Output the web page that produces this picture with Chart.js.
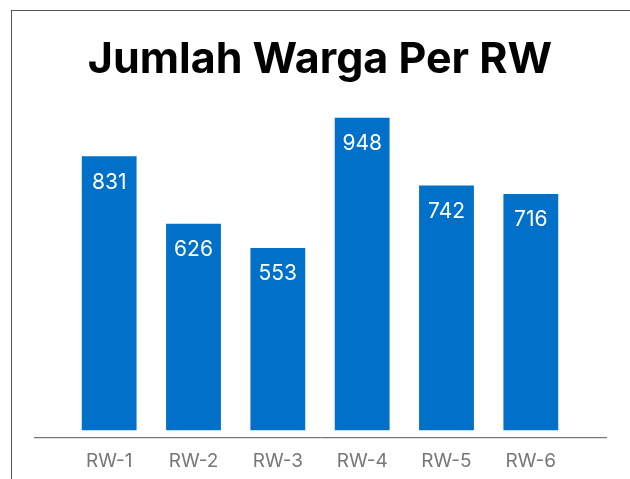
<!DOCTYPE html>
<html>
<head>
<meta charset="utf-8">
<script src="https://cdn.jsdelivr.net/npm/chart.js@4"></script>
<style>
    html, body { margin: 0; padding: 0; background: #fff; }
    #wrap { position: relative; width: 630px; height: 479px; }
    #frame {
        position: absolute; left: 11px; top: 10px; right: 0; bottom: 0;
        border-top: 1px solid #555; border-left: 1px solid #555;
        pointer-events: none;
    }
</style>
</head>
<body>
<div id="wrap">
    <canvas id="chart" width="630" height="479"></canvas>
    <div id="frame"></div>
</div>
<script>
// Data
const categories = ['RW-1', 'RW-2', 'RW-3', 'RW-4', 'RW-5', 'RW-6'];
const wargaValues = [831, 626, 553, 948, 742, 716];
const titleText = 'Jumlah Warga Per RW';

// Value labels drawn inside the top of each bar
const valueLabels = {
    id: 'valueLabels',
    afterDatasetsDraw(chart) {
        const ctx = chart.ctx;
        const meta = chart.getDatasetMeta(0);
        ctx.save();
        ctx.fillStyle = '#ffffff';
        ctx.font = '21px Inter';
        ctx.textAlign = 'center';
        ctx.textBaseline = 'middle';
        meta.data.forEach((bar, i) => {
            ctx.fillText(String(wargaValues[i]), bar.x, bar.y + 26);
        });
        ctx.restore();
    }
};

// Baseline that runs wider than the bars
const baseLine = {
    id: 'baseLine',
    afterDraw(chart) {
        const { ctx, chartArea } = chart;
        ctx.save();
        ctx.strokeStyle = '#555';
        ctx.lineWidth = 1;
        ctx.beginPath();
        ctx.moveTo(chartArea.left - 33, chartArea.bottom + 0.5);
        ctx.lineTo(chartArea.right + 34, chartArea.bottom + 0.5);
        ctx.stroke();
        ctx.restore();
    }
};

new Chart(document.getElementById('chart'), {
    type: 'bar',
    data: {
        labels: categories,
        datasets: [{
            data: wargaValues,
            backgroundColor: '#0170c9',
            borderWidth: 0,
            barPercentage: 0.65,
            categoryPercentage: 1.0
        }]
    },
    options: {
        responsive: false,
        animation: false,
        layout: { padding: { left: 67, right: 57, top: 0, bottom: -7 } },
        plugins: {
            legend: { display: false },
            tooltip: { enabled: false },
            title: {
                display: true,
                text: titleText,
                color: '#000',
                font: { family: 'Inter', size: 43, weight: 'bold' },
                padding: { top: 34, bottom: 32 }
            }
        },
        scales: {
            x: {
                grid: { display: false, drawTicks: false },
                border: { display: false },
                ticks: {
                    color: '#777777',
                    font: { family: 'Inter', size: 19 },
                    padding: 13
                }
            },
            y: {
                display: false,
                min: -21,
                max: 948
            }
        }
    },
    plugins: [valueLabels, baseLine]
});
</script>
</body>
</html>
